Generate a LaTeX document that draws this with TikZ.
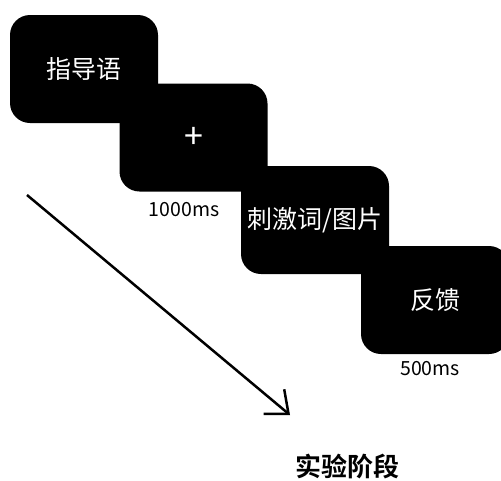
\documentclass[tikz,border=0pt]{standalone}
\usepackage{fontspec}
\setmainfont{Noto Sans CJK SC}[BoldFont={Noto Sans CJK SC Bold}]
\usetikzlibrary{arrows.meta}
\tikzset{
  screen/.style={fill=black, text=white, rounded corners=20pt, minimum width=148pt, minimum height=108pt, inner sep=0pt, font=\fontsize{25}{29}\selectfont},
  timelbl/.style={inner sep=0pt, font=\fontsize{19.5}{23}\selectfont},
}
\begin{document}
\begin{tikzpicture}[x=1pt,y=-1pt]
\useasboundingbox (0,0) rectangle (501,480);
\node[screen] (b1) at (84,69) {指导语};
\node[screen, font=\fontsize{34}{38}\selectfont] (b2) at (193.5,137.5) {+};
\node[screen] (b3) at (315,220) {刺激词/图片};
\node[screen] (b4) at (435,300) {反馈};
\node[timelbl] (t1) at (184,210) {1000ms};
\node[timelbl] (t2) at (430,369) {500ms};
\coordinate (a0) at (27,195);
\coordinate (a1) at (290,415);
\draw[line width=2.5pt, -{Straight Barb[length=19pt,width=32pt,line width=2.5pt]}] (a0) -- (a1);
\node[inner sep=0pt, font=\bfseries\fontsize{26}{30}\selectfont] (ph) at (347,467) {实验阶段};
\end{tikzpicture}
\end{document}
